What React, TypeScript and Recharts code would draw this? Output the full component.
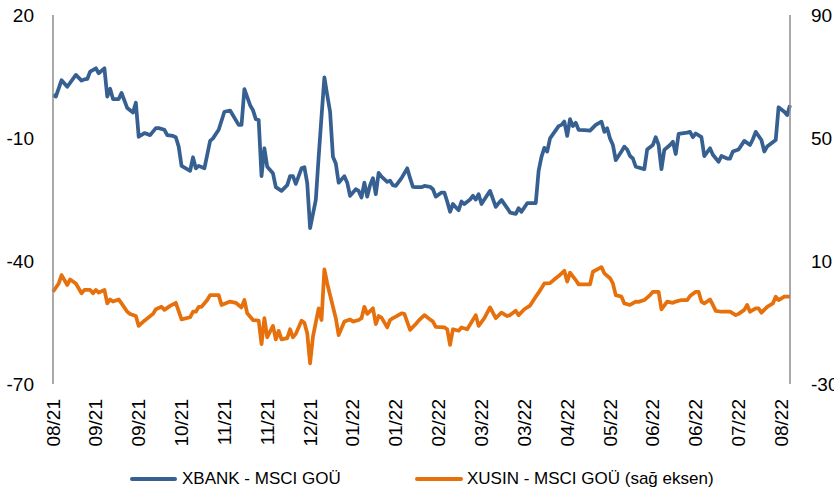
import React from "react";
import { LineChart, Line, XAxis, YAxis, Legend } from "recharts";

const xLabels = ["08/21", "09/21", "09/21", "10/21", "11/21", "11/21", "12/21", "01/22", "01/22", "02/22", "03/22", "03/22", "04/22", "05/22", "06/22", "06/22", "07/22", "08/22"];
const labelStep = 15;
const lastDay = 258;

const leftTicks = [20, -10, -40, -70];
const rightTicks = [90, 50, 10, -30];

const xbankDays = [0, 1, 3, 5, 8, 10, 11, 12, 13, 15, 16, 18, 19, 20, 21, 23, 24, 26, 28, 29, 30, 32, 34, 36, 37, 39, 40, 42, 43, 44, 45, 48, 49, 50, 51, 53, 55, 56, 58, 60, 62, 65, 66, 67, 69, 70, 71, 72, 73, 74, 75, 77, 78, 80, 82, 83, 84, 85, 87, 88, 89, 90, 92, 93, 94, 95, 96, 97, 98, 99, 100, 102, 103, 104, 106, 107, 108, 109, 110, 111, 112, 113, 114, 115, 117, 118, 119, 120, 122, 124, 125, 126, 127, 129, 130, 132, 133, 134, 136, 137, 138, 139, 140, 141, 142, 143, 144, 146, 147, 148, 149, 150, 151, 153, 155, 156, 157, 159, 160, 162, 163, 164, 166, 169, 170, 171, 172, 173, 174, 177, 178, 179, 180, 181, 182, 183, 184, 186, 188, 190, 192, 193, 194, 195, 196, 197, 199, 200, 201, 202, 203, 204, 207, 208, 210, 211, 212, 213, 214, 216, 217, 218, 219, 222, 223, 224, 225, 227, 228, 230, 231, 233, 234, 236, 237, 238, 240, 242, 244, 245, 246, 248, 249, 250, 253, 254, 256, 257, 258];
const xbankValues = [0.5, 0.1, 4.1, 2.5, 5.4, 4.0, 4.3, 4.4, 6.2, 7.0, 5.8, 7.0, 0.1, 2.0, -0.5, -0.5, 1.0, -2.7, -3.8, -1.4, -9.7, -8.8, -9.3, -7.6, -7.6, -8.0, -9.3, -9.5, -9.8, -12.1, -16.8, -18.0, -14.7, -17.4, -16.8, -17.4, -10.7, -10.1, -8.0, -3.6, -3.3, -6.8, -6.8, 1.9, -2.0, -3.2, -5.4, -5.6, -19.3, -12.5, -17.0, -18.6, -22.0, -22.9, -21.5, -19.3, -19.3, -21.2, -17.4, -17.1, -21.0, -32.0, -25.1, -14.6, -4.8, 4.8, 0.5, -3.6, -14.6, -16.2, -20.9, -19.3, -20.9, -24.1, -22.5, -22.9, -24.5, -20.9, -24.3, -21.5, -19.8, -23.7, -18.5, -19.4, -20.7, -20.4, -21.5, -21.7, -19.8, -17.4, -19.8, -21.9, -22.0, -22.0, -21.7, -21.9, -22.5, -24.3, -23.3, -23.3, -25.5, -28.0, -26.1, -26.9, -27.6, -25.5, -26.1, -25.0, -24.1, -25.0, -23.7, -26.1, -25.0, -22.9, -26.8, -25.9, -25.1, -27.1, -28.2, -28.5, -27.1, -28.0, -25.9, -25.9, -18.0, -14.6, -12.4, -13.3, -10.1, -7.1, -6.8, -6.0, -9.5, -5.4, -7.1, -6.3, -8.0, -8.1, -8.2, -6.8, -6.0, -8.5, -7.6, -10.1, -11.7, -15.4, -13.3, -12.1, -12.8, -14.4, -15.0, -17.0, -17.6, -12.8, -11.7, -9.8, -11.7, -17.6, -12.9, -11.7, -10.9, -13.9, -9.0, -8.7, -8.5, -9.8, -8.9, -9.8, -14.4, -12.5, -14.1, -15.8, -14.4, -15.0, -15.0, -13.3, -12.8, -10.7, -11.7, -10.3, -8.5, -10.5, -13.3, -12.1, -10.5, -2.5, -3.6, -4.4, -2.0];

const xusinDays = [0, 2, 3, 5, 6, 8, 10, 11, 13, 14, 15, 16, 18, 19, 20, 21, 23, 24, 26, 27, 29, 30, 32, 35, 36, 38, 39, 41, 43, 45, 48, 49, 50, 51, 52, 54, 55, 58, 59, 62, 64, 66, 67, 68, 70, 72, 73, 74, 75, 77, 78, 79, 80, 82, 83, 84, 85, 87, 88, 89, 90, 91, 93, 94, 95, 96, 97, 99, 100, 102, 104, 105, 107, 108, 109, 110, 112, 113, 114, 115, 117, 118, 119, 120, 122, 123, 125, 127, 128, 130, 132, 133, 134, 137, 138, 139, 140, 142, 143, 145, 148, 149, 151, 153, 155, 157, 159, 160, 162, 163, 165, 167, 169, 170, 172, 174, 176, 177, 179, 180, 181, 183, 184, 188, 189, 192, 193, 195, 196, 197, 199, 200, 202, 204, 205, 207, 209, 210, 212, 213, 215, 217, 218, 220, 222, 223, 225, 226, 227, 228, 230, 231, 232, 234, 237, 239, 240, 242, 243, 244, 246, 247, 248, 250, 252, 253, 254, 256, 258];
const xusinValues = [0.0, 2.7, 5.4, 2.2, 4.0, 2.7, -0.5, 0.6, 0.6, -0.5, 0.6, -0.3, 0.6, -3.8, -2.5, -3.2, -2.5, -3.8, -6.5, -7.2, -7.9, -11.1, -9.4, -7.2, -5.7, -4.9, -5.9, -4.6, -3.6, -9.0, -8.3, -6.5, -6.5, -4.9, -4.9, -2.7, -1.1, -1.1, -4.3, -3.2, -3.6, -5.1, -2.7, -7.0, -9.2, -9.4, -17.0, -8.6, -14.8, -11.1, -15.5, -12.7, -15.5, -15.1, -12.2, -14.8, -13.7, -9.4, -10.1, -13.5, -23.3, -14.6, -5.4, -9.2, 7.3, 2.7, -1.1, -8.6, -14.1, -9.7, -9.0, -9.7, -9.2, -8.6, -4.9, -7.2, -5.4, -10.5, -7.9, -8.4, -11.6, -9.2, -8.6, -8.1, -7.0, -7.2, -12.4, -10.5, -9.4, -7.6, -9.0, -9.7, -11.4, -11.6, -12.2, -17.3, -12.2, -12.7, -11.6, -12.2, -7.6, -11.1, -8.6, -5.1, -8.6, -6.8, -7.9, -7.6, -6.2, -7.6, -5.7, -4.5, -1.6, -0.3, 2.7, 2.8, 4.4, 5.1, 6.8, 3.3, 6.2, 3.8, 2.4, 2.4, 6.5, 8.0, 6.0, 4.4, 2.7, -1.1, -1.6, -3.8, -4.3, -3.2, -3.3, -2.7, -1.1, 0.0, 0.0, -5.7, -3.2, -3.6, -3.2, -2.7, -2.7, -1.4, 0.0, 0.0, -3.2, -3.8, -2.5, -4.3, -6.2, -6.5, -6.5, -7.6, -7.2, -5.9, -4.3, -6.5, -5.4, -5.4, -6.8, -4.9, -3.8, -1.6, -2.7, -1.6, -1.6];

const BLUE = "#376092";
const ORANGE = "#E6700C";
const FONT = "'Liberation Sans', Arial, sans-serif";

const xbankData = xbankDays.map((d, i) => ({ d, v: xbankValues[i] }));
const xusinData = xusinDays.map((d, i) => ({ d, v: xusinValues[i] }));
const tickDays = xLabels.map((_, i) => i * labelStep);

const XTick = (props: any) => {
  const { x, y, payload } = props;
  const idx = tickDays.indexOf(payload.value);
  return (
    <text
      x={x}
      y={y}
      transform={`rotate(-90 ${x} ${y})`}
      textAnchor="end"
      dominantBaseline="central"
      fontSize={19}
      fontFamily={FONT}
      fill="#000"
    >
      {idx >= 0 ? xLabels[idx] : ""}
    </text>
  );
};

const renderLegend = () => (
  <div style={{ position: "relative", width: 834, height: 24, fontFamily: FONT, fontSize: 17, color: "#000" }}>
    <div style={{ position: "absolute", left: 130, top: 10, width: 47, height: 4, background: BLUE, borderRadius: 2 }} />
    <span style={{ position: "absolute", left: 182, top: 0, lineHeight: "24px", whiteSpace: "nowrap" }}>XBANK - MSCI GOÜ</span>
    <div style={{ position: "absolute", left: 415, top: 10, width: 48, height: 4, background: ORANGE, borderRadius: 2 }} />
    <span style={{ position: "absolute", left: 467, top: 0, lineHeight: "24px", whiteSpace: "nowrap" }}>XUSIN - MSCI GOÜ (sağ eksen)</span>
  </div>
);

export default function App() {
  return (
    <div style={{ position: "absolute", left: 0, top: 0, width: 834, height: 496, background: "#fff" }}>
      <LineChart width={834} height={496} margin={{ top: 15, right: 0, bottom: 0, left: 0 }}>
        <XAxis
          type="number"
          dataKey="d"
          domain={[0, lastDay]}
          ticks={tickDays}
          interval={0}
          axisLine={false}
          tickLine={false}
          tickSize={0}
          tickMargin={15}
          height={88}
          tick={<XTick />}
          allowDecimals={false}
        />
        <YAxis
          yAxisId="left"
          domain={[-70, 20]}
          ticks={leftTicks}
          interval={0}
          width={53}
          tickLine={false}
          tickSize={0}
          tickMargin={19}
          axisLine={{ stroke: "#8c8c8c", strokeWidth: 1.5 }}
          tick={{ fill: "#000", fontSize: 19, fontFamily: FONT }}
        />
        <YAxis
          yAxisId="right"
          orientation="right"
          domain={[-30, 90]}
          ticks={rightTicks}
          interval={0}
          width={44}
          tickLine={false}
          tickSize={0}
          tickMargin={21}
          axisLine={{ stroke: "#8c8c8c", strokeWidth: 1.5 }}
          tick={{ fill: "#000", fontSize: 19, fontFamily: FONT }}
        />
        <Line
          yAxisId="left"
          data={xbankData}
          dataKey="v"
          name="XBANK - MSCI GOÜ"
          type="linear"
          stroke={BLUE}
          strokeWidth={3.75}
          strokeLinejoin="round"
          dot={false}
          activeDot={false}
          isAnimationActive={false}
        />
        <Line
          yAxisId="right"
          data={xusinData}
          dataKey="v"
          name="XUSIN - MSCI GOÜ (sağ eksen)"
          type="linear"
          stroke={ORANGE}
          strokeWidth={3.75}
          strokeLinejoin="round"
          dot={false}
          activeDot={false}
          isAnimationActive={false}
        />
        <Legend
          verticalAlign="bottom"
          content={renderLegend}
          wrapperStyle={{ left: 0, top: 467, width: 834, height: 24 }}
        />
      </LineChart>
    </div>
  );
}
